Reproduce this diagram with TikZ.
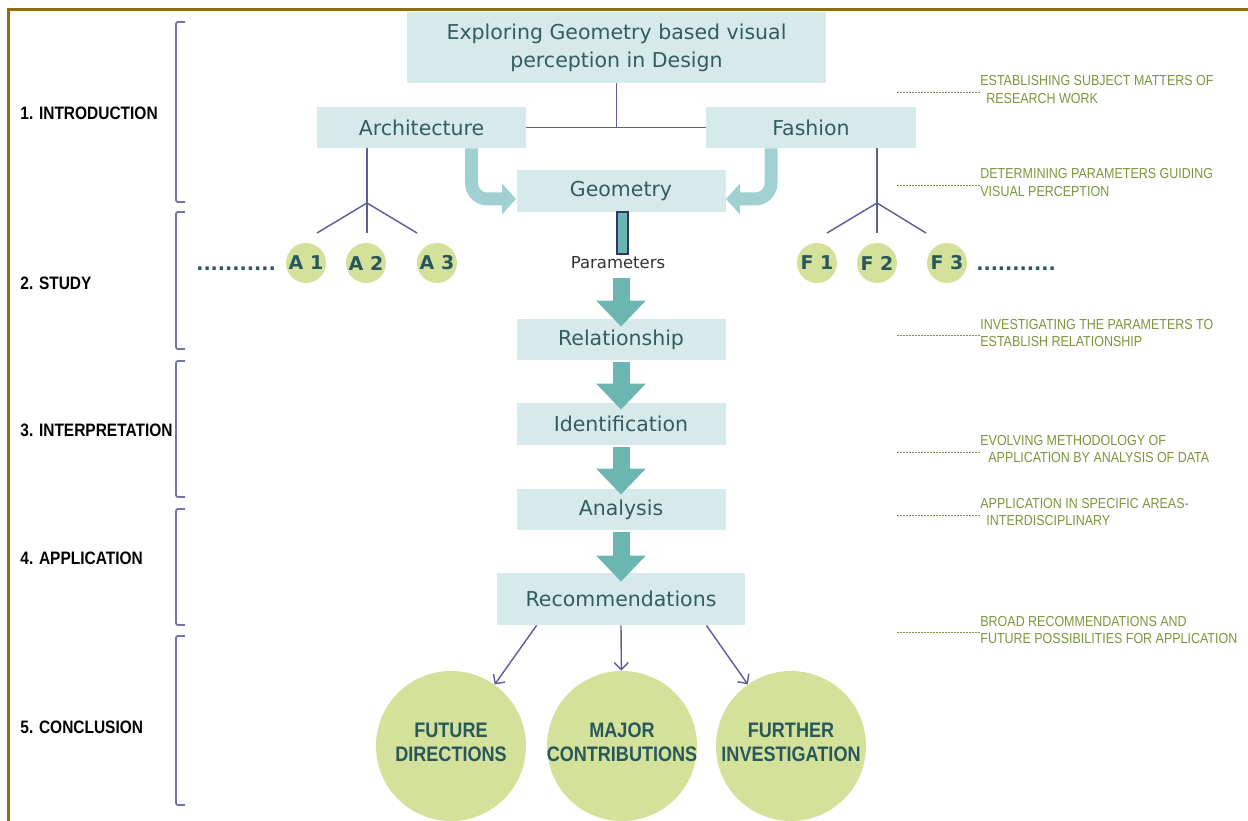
\documentclass[tikz,border=0pt]{standalone}
\usepackage{fontspec}
\setmainfont{DejaVu Sans}
\newfontfamily\condfont[FakeStretch=0.86]{Liberation Sans}
\usetikzlibrary{arrows.meta}

\definecolor{boxfill}{RGB}{214,234,236}
\definecolor{boxtext}{RGB}{52,92,94}
\definecolor{bendteal}{RGB}{160,209,208}
\definecolor{flowteal}{RGB}{108,182,177}
\definecolor{barnavy}{RGB}{46,56,100}
\definecolor{leafgreen}{RGB}{212,225,155}
\definecolor{leaftext}{RGB}{40,88,92}
\definecolor{linkblue}{RGB}{92,92,152}
\definecolor{bracketblue}{RGB}{115,115,172}
\definecolor{noteolive}{RGB}{122,150,58}
\definecolor{framegold}{RGB}{140,112,10}

\begin{document}
\begin{tikzpicture}[x=1pt, y=-1pt, thick]
    \tikzset{block/.style={%
      rectangle,%
      fill=boxfill,%
      text=boxtext,%
      inner sep=0pt,%
      font=\fontsize{20.5}{28}\selectfont}%
    };
\tikzset{stepblock/.style={block, minimum width=209pt, minimum height=41pt}};
\tikzset{leaf/.style={circle, fill=leafgreen, text=leaftext, minimum size=40pt, inner sep=0pt, font=\bfseries\fontsize{19}{19}\selectfont}};
\tikzset{bigleaf/.style={circle, fill=leafgreen, minimum size=150pt, inner sep=0pt}};
\tikzset{bigleaftext/.style={align=center, text=leaftext, inner sep=0pt, font=\condfont\bfseries\fontsize{21}{24}\selectfont}};
\tikzset{link/.style={draw=linkblue, line width=1.4pt}};
\tikzset{bendarrow/.style={draw=bendteal, line width=13pt, rounded corners=16pt, -{Triangle[width=30pt,length=14pt]}}};
\tikzset{flow/.style={draw=flowteal, line width=17pt, shorten <=2pt, -{Triangle[width=48pt,length=26pt]}}};
\tikzset{stage/.style={anchor=west, inner sep=0pt, font=\condfont\bfseries\fontsize{18}{18}\selectfont}};
\tikzset{note/.style={anchor=west, align=left, inner sep=0pt, text=noteolive, font=\condfont\fontsize{14.5}{17.5}\selectfont}};
\tikzset{leader/.style={draw=noteolive!80!gray, line width=0.6pt, dash pattern=on 2pt off 1pt}};
\tikzset{trail/.style={anchor=base, text=leaftext, font=\bfseries\fontsize{19}{19}\selectfont}};

\useasboundingbox (0,0) rectangle (1248,821);

%page frame
\draw[framegold, line width=3pt] (8,821) -- (8,10) -- (1248,10);

%stage brackets
\draw[bracketblue, line width=1.8pt, rounded corners=2pt] (185,22) -- (176,22) -- (176,202) -- (185,202);
\draw[bracketblue, line width=1.8pt, rounded corners=2pt] (185,212) -- (176,212) -- (176,349) -- (185,349);
\draw[bracketblue, line width=1.8pt, rounded corners=2pt] (185,361) -- (176,361) -- (176,497) -- (185,497);
\draw[bracketblue, line width=1.8pt, rounded corners=2pt] (185,509) -- (176,509) -- (176,625) -- (185,625);
\draw[bracketblue, line width=1.8pt, rounded corners=2pt] (185,636) -- (176,636) -- (176,805) -- (185,805);

\node[stage] (intro) at (20,113) {1. INTRODUCTION};
\node[stage] (study) at (20,283) {2. STUDY};
\node[stage] (interp) at (20,430) {3. INTERPRETATION};
\node[stage] (applic) at (20,558) {4. APPLICATION};
\node[stage] (concl) at (20,727) {5. CONCLUSION};

%main column
\node[block, minimum width=419pt, minimum height=71pt, align=center] (title) at (616.5,47.5)
  {Exploring Geometry based visual\\perception in Design};
\node[stepblock] (arch) at (421.5,127.5) {Architecture};
\node[stepblock, minimum width=210pt] (fashion) at (811,127.5) {Fashion};
\node[stepblock, minimum height=42pt] (geometry) at (621,191) {Geometry};
\node[stepblock] (rel) at (621,339.5) {Relationship};
\node[stepblock, minimum height=42pt] (ident) at (621,424) {Identification};
\node[stepblock] (analysis) at (621,509.5) {Analysis};
\node[block, minimum width=248pt, minimum height=52pt] (recom) at (621,599) {Recommendations};

\draw[link] (title.south) -- (title.south |- arch.east);
\draw[link] (arch.east) -- (fashion.west);

%both fields feed geometry
\draw[bendarrow] ([xshift=50pt]arch.south) |- ([yshift=-8pt]geometry.west);
\draw[bendarrow] ([xshift=-40pt]fashion.south) |- ([yshift=-8pt]geometry.east);

\node[rectangle, fill=flowteal, draw=barnavy, line width=2pt, minimum width=11pt, minimum height=42pt, inner sep=0pt] (bar) at (622,233) {};
\node[text={rgb,255:red,50;green,50;blue,50}, font=\fontsize{16.5}{18}\selectfont] (params) at (618,263) {Parameters};

\coordinate (paramsOut) at (621,276);
\draw[flow] (paramsOut) -- ([yshift=-8pt]rel.north);
\draw[flow] (rel.south) -- ([yshift=-7pt]ident.north);
\draw[flow] (ident.south) -- ([yshift=-6pt]analysis.north);
\draw[flow] (analysis.south) -- ([yshift=-9pt]recom.north);

%architecture branch
\coordinate (aFork) at (367,203);
\coordinate (aLeft) at (317,233);
\coordinate (aMid) at (367,233);
\coordinate (aRight) at (417,233);
\draw[link] (arch.south -| aFork) -- (aFork);
\draw[link] (aFork) -- (aLeft);
\draw[link] (aFork) -- (aMid);
\draw[link] (aFork) -- (aRight);

\node[leaf] (a1) at (306,263) {A 1};
\node[leaf] (a2) at (366,263) {A 2};
\node[leaf] (a3) at (437,263) {A 3};
\node[trail] (aMore) at (236,271) {...........};

%fashion branch
\coordinate (fFork) at (877,203);
\coordinate (fLeft) at (827,233);
\coordinate (fMid) at (877,233);
\coordinate (fRight) at (926,233);
\draw[link] (fashion.south -| fFork) -- (fFork);
\draw[link] (fFork) -- (fLeft);
\draw[link] (fFork) -- (fMid);
\draw[link] (fFork) -- (fRight);

\node[leaf] (f1) at (817,263) {F 1};
\node[leaf] (f2) at (877,263) {F 2};
\node[leaf] (f3) at (947,263) {F 3};
\node[trail] (fMore) at (1016,271) {...........};

%outcomes
\node[bigleaf] (future) at (451,746) {};
\node[bigleaf] (major) at (622,746) {};
\node[bigleaf] (further) at (791,746) {};
\node[bigleaftext] (futureText) at ([yshift=4pt]future.center) {FUTURE\\DIRECTIONS};
\node[bigleaftext] (majorText) at ([yshift=4pt]major.center) {MAJOR\\CONTRIBUTIONS};
\node[bigleaftext] (furtherText) at ([yshift=4pt]further.center) {FURTHER\\INVESTIGATION};

\draw[link, -{Straight Barb[length=7pt,width=14pt]}] ([xshift=40pt]recom.south west) -- (future);
\draw[link, -{Straight Barb[length=7pt,width=14pt]}] (recom.south) -- (major);
\draw[link, -{Straight Barb[length=7pt,width=14pt]}] ([xshift=-39pt]recom.south east) -- (further);

%notes on the right
\node[note] (note1) at (980,89.5) {ESTABLISHING SUBJECT MATTERS OF\\\hspace*{6pt}RESEARCH WORK};
\node[note] (note2) at (980,182.5) {DETERMINING PARAMETERS GUIDING\\VISUAL PERCEPTION};
\node[note] (note3) at (980,333) {INVESTIGATING THE PARAMETERS TO\\ESTABLISH RELATIONSHIP};
\node[note] (note4) at (980,449) {EVOLVING METHODOLOGY OF\\\hspace*{8pt}APPLICATION BY ANALYSIS OF DATA};
\node[note] (note5) at (980,512) {APPLICATION IN SPECIFIC AREAS-\\\hspace*{6pt}INTERDISCIPLINARY};
\node[note] (note6) at (980,630) {BROAD RECOMMENDATIONS AND\\FUTURE POSSIBILITIES FOR APPLICATION};

\coordinate (lead1) at (897,92);
\coordinate (lead2) at (897,185);
\coordinate (lead3) at (897,335);
\coordinate (lead4) at (897,452);
\coordinate (lead5) at (897,515);
\coordinate (lead6) at (897,632);
\draw[leader] (lead1) -- (lead1 -| note1.west);
\draw[leader] (lead2) -- (lead2 -| note2.west);
\draw[leader] (lead3) -- (lead3 -| note3.west);
\draw[leader] (lead4) -- (lead4 -| note4.west);
\draw[leader] (lead5) -- (lead5 -| note5.west);
\draw[leader] (lead6) -- (lead6 -| note6.west);

\end{tikzpicture}
\end{document}
